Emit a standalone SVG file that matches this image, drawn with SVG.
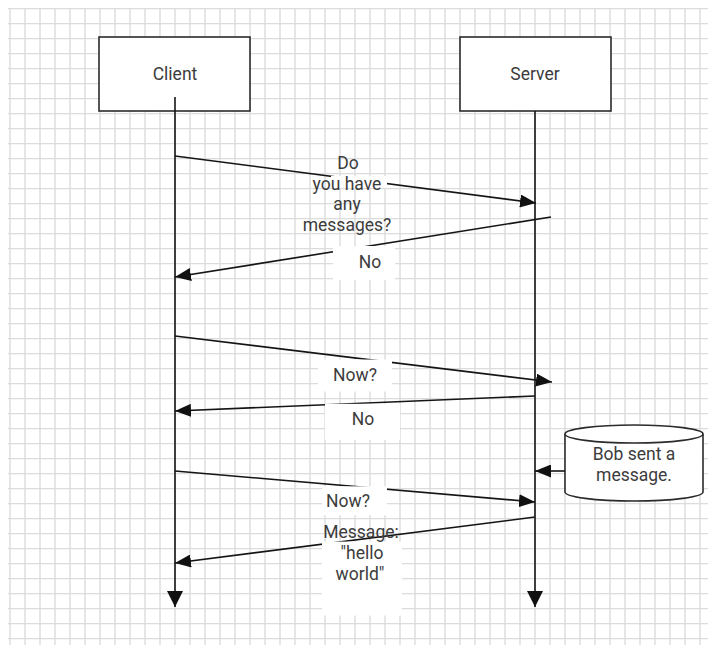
<svg xmlns="http://www.w3.org/2000/svg" width="708" height="646" viewBox="0 0 708 646">
  <style>
    .box { fill: #ffffff; stroke: #2b2b2b; stroke-width: 1.6; }
    .txt { font-family: Roboto, "Liberation Sans", sans-serif; font-size: 17.5px; fill: #3c3c3c; text-anchor: middle; }
    .line { fill: none; stroke: #151515; stroke-width: 1.6; }
    .msg { marker-end: url(#ah); }
    .life { marker-end: url(#ahL); }
    .bg { fill: #ffffff; }
  </style>
  <defs>
    <pattern id="grid" x="8" y="8" width="15" height="15" patternUnits="userSpaceOnUse">
      <path d="M2,0 V15 M0,0.5 H15" stroke="#dcdcdc" stroke-width="1.4" fill="none"/>
    </pattern>
    <marker id="ah" viewBox="0 0 16 13" refX="16" refY="6.5" markerWidth="16" markerHeight="13" orient="auto" markerUnits="userSpaceOnUse">
      <path d="M0,0 L16,6.5 L0,13 z" fill="#111"/>
    </marker>
    <marker id="ahL" viewBox="0 0 16 16" refX="16" refY="8" markerWidth="16" markerHeight="16" orient="auto" markerUnits="userSpaceOnUse">
      <path d="M0,0 L16,8 L0,16 z" fill="#111"/>
    </marker>
  </defs>

  <rect x="0" y="0" width="708" height="646" fill="#ffffff"/>
  <rect x="8" y="8" width="700" height="637" fill="url(#grid)"/>

  <g id="client">
    <rect class="box" x="99" y="37" width="151" height="74"/>
    <text class="txt" x="175" y="80">Client</text>
  </g>

  <g id="server">
    <rect class="box" x="460" y="37" width="151" height="74"/>
    <text class="txt" x="535" y="80">Server</text>
  </g>

  <g id="bob-store">
    <path class="box" d="M565,434 A69,9 0 0 1 703,434 V492 A69,9 0 0 1 565,492 Z"/>
    <path d="M565,434 A69,9 0 0 0 703,434" fill="none" stroke="#2b2b2b" stroke-width="1.6"/>
    <text class="txt" x="634" y="460">Bob sent a</text>
    <text class="txt" x="634" y="481">message.</text>
  </g>

  <g id="connectors">
    <path class="line life" d="M175,97 V607"/>
    <path class="line life" d="M535,111 V607"/>
    <path class="line msg" d="M175,156 L536,203"/>
    <path class="line msg" d="M551,217 L175,277"/>
    <path class="line msg" d="M175,336 L552,382"/>
    <path class="line msg" d="M535,396 L175,411"/>
    <path class="line msg" d="M565,471 L535,471"/>
    <path class="line msg" d="M175,471 L535,502"/>
    <path class="line msg" d="M535,517 L175,563"/>
  </g>

  <g id="labels">
    <rect class="bg" x="331" y="176" width="56" height="12"/>
    <text class="txt" x="348" y="169">Do</text>
    <text class="txt" x="347" y="190">you have</text>
    <text class="txt" x="347" y="210">any</text>
    <text class="txt" x="347" y="231">messages?</text>

    <rect class="bg" x="333" y="246" width="62" height="34"/>
    <text class="txt" x="370" y="268">No</text>

    <rect class="bg" x="318" y="359.5" width="74" height="32"/>
    <text class="txt" x="355" y="381">Now?</text>

    <rect class="bg" x="325" y="403.8" width="75" height="36"/>
    <text class="txt" x="363" y="425">No</text>

    <rect class="bg" x="322" y="486.3" width="65" height="29"/>
    <text class="txt" x="348" y="507">Now?</text>

    <rect class="bg" x="322" y="541.6" width="80" height="74"/>
    <text class="txt" x="361" y="538">Message:</text>
    <text class="txt" x="362" y="559">"hello</text>
    <text class="txt" x="360" y="580">world"</text>
  </g>
</svg>
